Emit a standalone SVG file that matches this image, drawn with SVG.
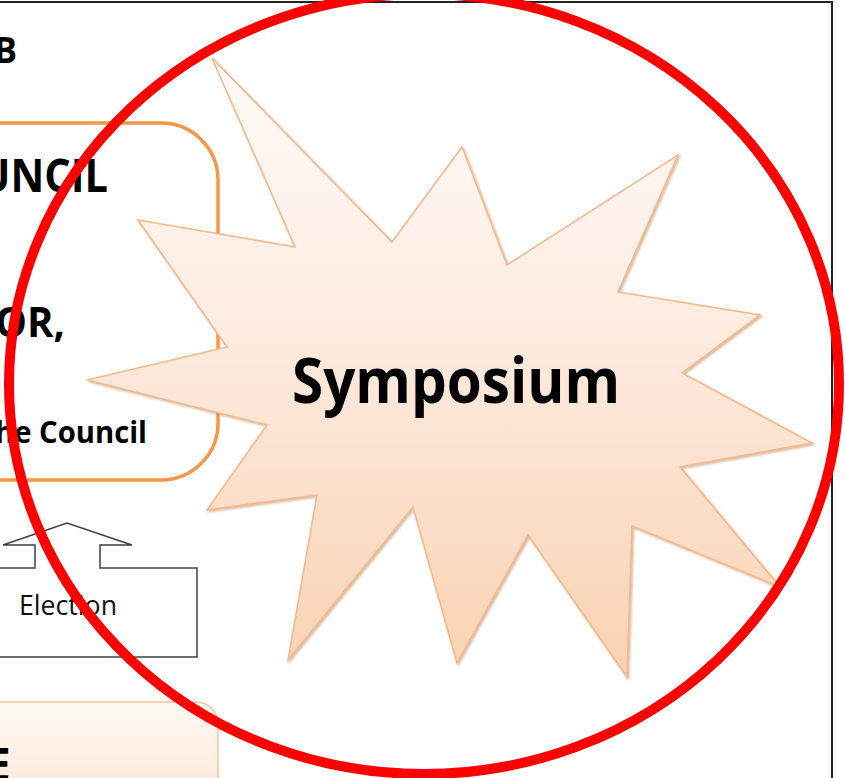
<svg xmlns="http://www.w3.org/2000/svg" width="846" height="778" viewBox="0 0 846 778">
  <defs>
    <linearGradient id="starFill" x1="0" y1="0" x2="0" y2="1">
      <stop offset="0" stop-color="#fffbf8"/>
      <stop offset="0.45" stop-color="#fdebe0"/>
      <stop offset="1" stop-color="#f9d2b2"/>
    </linearGradient>
    <linearGradient id="boxFill" x1="0" y1="0" x2="0" y2="1">
      <stop offset="0" stop-color="#fffaf6"/>
      <stop offset="1" stop-color="#fce3cf"/>
    </linearGradient>
    <filter id="shadow" x="-10%" y="-10%" width="120%" height="120%">
      <feDropShadow dx="1.5" dy="1.5" stdDeviation="1" flood-color="#a0602a" flood-opacity="0.45"/>
    </filter>
  </defs>
  <style>
    .bold { font-family: "Open Sans", "Liberation Sans", sans-serif; font-weight: bold; fill: #000; }
    .reg { font-family: "Open Sans", "Liberation Sans", sans-serif; font-weight: normal; fill: #111; }
  </style>
  <rect width="846" height="778" fill="#fff"/>
  <!-- frame -->
  <path d="M -5 2 L 832 2 L 832 790" fill="none" stroke="#222" stroke-width="2"/>

  <g id="title-fragment">
    <text class="bold" x="-6" y="63" font-size="36" textLength="23" lengthAdjust="spacingAndGlyphs">B</text>
  </g>

  <g id="council-box">
    <rect x="-100" y="123" width="318" height="357" rx="57" ry="57" fill="#fff" stroke="#f79646" stroke-width="3.5"/>
    <text class="bold" x="-21" y="192" font-size="46" textLength="129" lengthAdjust="spacingAndGlyphs">UNCIL</text>
    <text class="bold" x="-5" y="337" font-size="42" textLength="70" lengthAdjust="spacingAndGlyphs">OR,</text>
    <text class="bold" x="-5" y="443" font-size="30" textLength="152" lengthAdjust="spacingAndGlyphs">he Council</text>
  </g>

  <g id="connectors">
    <g id="election-arrow">
      <path d="M -63 568 L 35 568 L 35 545 L 3 545 L 67 523 L 132 545 L 100 545 L 100 568 L 197 568 L 197 657 L -63 657 Z" fill="#fff" stroke="#404040" stroke-width="1.5" stroke-linejoin="miter"/>
      <text class="reg" x="19" y="615" font-size="28" textLength="98" lengthAdjust="spacingAndGlyphs">Election</text>
    </g>
  </g>

  <g id="bottom-box">
    <rect x="-50" y="702" width="268" height="120" rx="22" ry="22" fill="url(#boxFill)" stroke="#fac29a" stroke-width="1.5"/>
    <text class="bold" x="-15" y="781" font-size="46">E</text>
  </g>

  <g id="symposium">
    <polygon filter="url(#shadow)" points="212,58 392,242 462,147 507,265 678,155 618,292 760,315 682,373 812,443 680,467 780,587 632,526 627,677 528,535 457,663 413,507 288,660 317,495 207,510 267,425 87,380 227,347 138,220 295,247" fill="url(#starFill)" stroke="#f7b88a" stroke-width="1.6" stroke-linejoin="miter"/>
    <text class="bold" x="292" y="403" font-size="63" textLength="328" lengthAdjust="spacingAndGlyphs">Symposium</text>
  </g>

  <g id="highlight">
    <ellipse cx="424" cy="384" rx="415" ry="390" fill="none" stroke="#ff0000" stroke-width="10"/>
  </g>
</svg>
